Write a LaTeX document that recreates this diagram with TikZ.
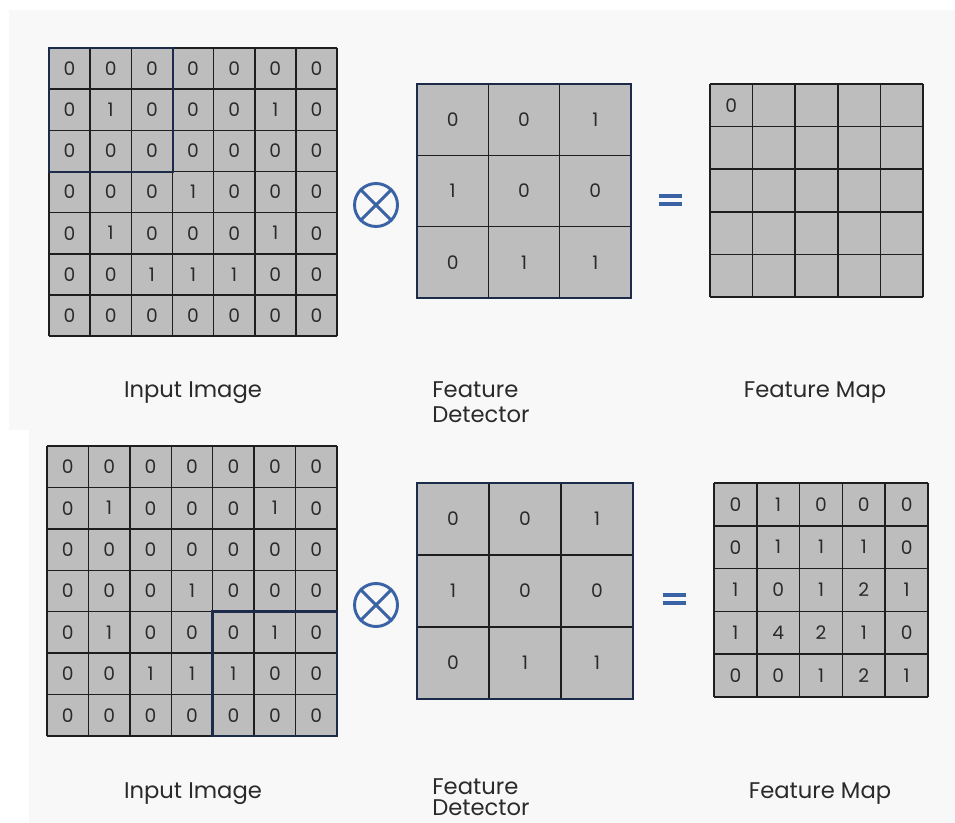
\documentclass[tikz,border=0pt]{standalone}
\usepackage{fontspec}
\setmainfont{Poppins}
\definecolor{cellgray}{HTML}{BDBDBD}
\definecolor{gridline}{HTML}{1E1E1E}
\definecolor{navy}{HTML}{1C2B4A}
\definecolor{opblue}{HTML}{3A63A6}
\definecolor{panel}{HTML}{F8F8F8}
\definecolor{txt}{HTML}{2A2A2A}
\begin{document}
\begin{tikzpicture}[x=0.75pt,y=-0.75pt,
  cellbox/.style={inner sep=0pt, font=\fontsize{14}{15}\selectfont, text=txt},
  gline/.style={draw=gridline, line width=1.15pt},
  hilite/.style={draw=navy, line width=1.8pt},
  kframe/.style={draw=navy, line width=1.7pt},
  lbl/.style={font=\fontsize{17}{18}\selectfont, text=txt, inner sep=0pt},
  opsym/.style={draw=opblue, line width=2.2pt},
]
\useasboundingbox (0,0) rectangle (955,823);
\fill[white] (0,0) rectangle (955,823);
\fill[panel] (9,10) rectangle (955,430);
\fill[panel] (29,430) rectangle (955,823);

% generic grid: #1 prefix, #2 x0, #3 y0, #4 cell size, #5 n, #6 rows
\newcommand{\mygrid}[6]{%
  \fill[cellgray] (#2,#3) rectangle ({#2+#5*#4},{#3+#5*#4});
  \foreach \i in {0,...,#5} {%
    \draw[gline] ({#2+\i*#4},#3) -- ({#2+\i*#4},{#3+#5*#4});
    \draw[gline] (#2,{#3+\i*#4}) -- ({#2+#5*#4},{#3+\i*#4});
  }%
  \foreach \rowlist [count=\r] in {#6} {%
    \foreach \v [count=\c] in \rowlist {%
      \node[cellbox, minimum size=#4*0.75pt] (#1-\r-\c)
        at ({#2+(\c-0.5)*#4},{#3+(\r-0.5)*#4}) {\v};
    }%
  }%
}

% ---------- top row ----------
\mygrid{inA}{49}{48}{41.15}{7}{{0,0,0,0,0,0,0},{0,1,0,0,0,1,0},{0,0,0,0,0,0,0},{0,0,0,1,0,0,0},{0,1,0,0,0,1,0},{0,0,1,1,1,0,0},{0,0,0,0,0,0,0}}
\draw[hilite] (inA-1-1.north west) rectangle (inA-3-3.south east);

\mygrid{kA}{417}{84}{71.33}{3}{{0,0,1},{1,0,0},{0,1,1}}
\draw[kframe] (kA-1-1.north west) rectangle (kA-3-3.south east);

\mygrid{mA}{710}{84}{42.6}{5}{{0,,,,},{,,,,},{,,,,},{,,,,},{,,,,}}

% operators top
\node[circle, opsym, minimum size=43*0.75pt, inner sep=0pt] (otA) at (376,205) {};
\draw[opsym] (otA.north west) -- (otA.south east);
\draw[opsym] (otA.north east) -- (otA.south west);
\coordinate (eqA) at (670,200);
\draw[opsym, line width=2.8pt] ([xshift=-11.5*0.75pt,yshift=3.8*0.75pt]eqA) -- ([xshift=11.5*0.75pt,yshift=3.8*0.75pt]eqA);
\draw[opsym, line width=2.8pt] ([xshift=-11.5*0.75pt,yshift=-3.8*0.75pt]eqA) -- ([xshift=11.5*0.75pt,yshift=-3.8*0.75pt]eqA);

% labels top
\node[lbl, anchor=base] (liA) at (193,397) {Input Image};
\node[lbl, anchor=base west] (ldA1) at (432,397) {Feature};
\node[lbl, anchor=base west] (ldA2) at (432,422) {Detector};
\node[lbl, anchor=base] (lmA) at (815,397) {Feature Map};

% ---------- bottom row ----------
\mygrid{inB}{47}{446}{41.43}{7}{{0,0,0,0,0,0,0},{0,1,0,0,0,1,0},{0,0,0,0,0,0,0},{0,0,0,1,0,0,0},{0,1,0,0,0,1,0},{0,0,1,1,1,0,0},{0,0,0,0,0,0,0}}
\draw[hilite] (inB-5-5.north west) rectangle (inB-7-7.south east);

\mygrid{kB}{417}{483}{72}{3}{{0,0,1},{1,0,0},{0,1,1}}
\draw[kframe] (kB-1-1.north west) rectangle (kB-3-3.south east);

\mygrid{mB}{714}{483}{42.8}{5}{{0,1,0,0,0},{0,1,1,1,0},{1,0,1,2,1},{1,4,2,1,0},{0,0,1,2,1}}

\node[circle, opsym, minimum size=43*0.75pt, inner sep=0pt] (otB) at (376,605) {};
\draw[opsym] (otB.north west) -- (otB.south east);
\draw[opsym] (otB.north east) -- (otB.south west);
\coordinate (eqB) at (674,599);
\draw[opsym, line width=2.8pt] ([xshift=-11.5*0.75pt,yshift=3.8*0.75pt]eqB) -- ([xshift=11.5*0.75pt,yshift=3.8*0.75pt]eqB);
\draw[opsym, line width=2.8pt] ([xshift=-11.5*0.75pt,yshift=-3.8*0.75pt]eqB) -- ([xshift=11.5*0.75pt,yshift=-3.8*0.75pt]eqB);

\node[lbl, anchor=base] (liB) at (193,798) {Input Image};
\node[lbl, anchor=base west] (ldB1) at (432,794) {Feature};
\node[lbl, anchor=base west] (ldB2) at (432,815) {Detector};
\node[lbl, anchor=base] (lmB) at (820,798) {Feature Map};
\end{tikzpicture}
\end{document}
